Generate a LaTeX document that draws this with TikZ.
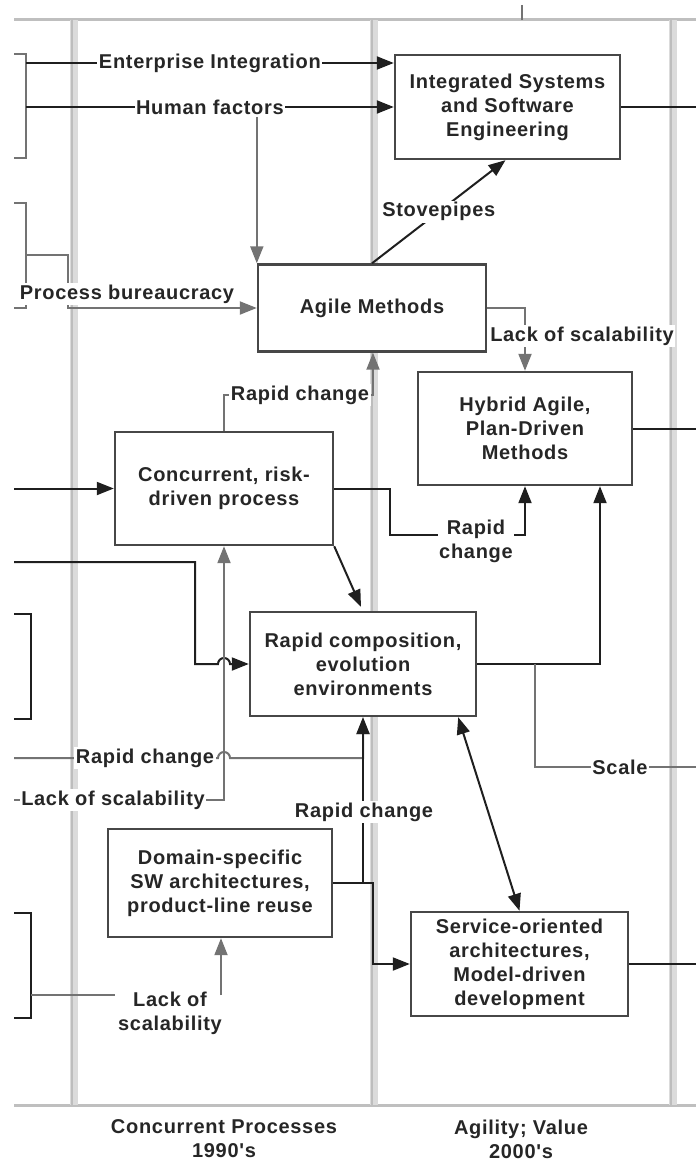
\documentclass[tikz,border=0pt]{standalone}
\usepackage{fontspec}
\setmainfont{Liberation Sans}[LetterSpace=3.5, Ligatures=TeXOff]
\usetikzlibrary{arrows.meta,calc}

\begin{document}
\begin{tikzpicture}[x=1pt,y=-1pt,
  every node/.style={font=\bfseries\fontsize{20}{24}\selectfont, text=black!85},
  box/.style={draw=black!72, line width=2.4pt, fill=white, align=center, inner sep=0pt},
  dk/.style={draw=black!88, line width=2pt},
  lt/.style={draw=black!55, line width=2pt},
  tip/.style={-{Triangle[length=17pt,width=13pt]}},
  tips/.style={{Triangle[length=17pt,width=13pt]}-{Triangle[length=17pt,width=13pt]}},
  lbl/.style={fill=white, inner sep=1.5pt, align=center},
  band/.style={draw=black!14, line width=8pt},
  bandline/.style={draw=black!26, line width=2.5pt},
  rule/.style={draw=black!25, line width=3pt},
]
\useasboundingbox (0,0) rectangle (696,1161);

% era frame: top and bottom rules, column separators
\draw[rule] (14,20) -- (696,20);
\draw[rule] (14,1105) -- (696,1105);
\foreach \cx in {74,374,673} {
  \draw[band] (\cx,20) -- (\cx,1105);
  \draw[bandline] (\cx-2,20) -- (\cx-2,1105);
}
\draw[draw=black!55, line width=2.5pt] (522,5) -- (522,20);

% reference coordinates on the page edges
\coordinate (lf) at (14,0);
\coordinate (rh) at (696,0);

% boxes
\node[box, minimum width=225pt, minimum height=104pt] (ise) at (507.5,107)
  {Integrated Systems\\and Software\\Engineering};
\node[box, minimum width=228pt, minimum height=87pt] (agile) at (372,308) {Agile Methods};
\node[box, minimum width=214pt, minimum height=113pt] (hybrid) at (525,428.5)
  {Hybrid Agile,\\Plan-Driven\\Methods};
\node[box, minimum width=218pt, minimum height=113pt] (conc) at (224,488.5)
  {Concurrent, risk-\\driven process};
\node[box, minimum width=226pt, minimum height=104pt] (rapid) at (363,664)
  {Rapid composition,\\evolution\\environments};
\node[box, minimum width=224pt, minimum height=108pt] (domain) at (220,883)
  {Domain-specific\\SW architectures,\\product-line reuse};
\node[box, minimum width=217pt, minimum height=104pt] (soa) at (519.5,964)
  {Service-oriented\\architectures,\\Model-driven\\development};

% left brackets
\draw[lt] (14,54) -- (26,54) -- (26,158) -- (14,158);
\draw[lt] (14,203) -- (26,203) -- (26,308) -- (14,308);
\draw[dk] (14,614) -- (31,614) -- (31,719) -- (14,719);
\draw[dk] (14,913) -- (31,913) -- (31,1018) -- (14,1018);

% inputs to integrated systems
\coordinate (ei) at (26,63);
\coordinate (hfs) at (26,107);
\draw[dk,tip] (ei) -- (ei -| ise.west) node[lbl,pos=0.5] (eil) {Enterprise Integration};
\draw[dk,tip] (hfs) -- (hfs -| ise.west) node[lbl,pos=0.5] (hfl) {Human factors};
\draw[lt,tip] (hfl.south -| agile.north west) -- (agile.north west);
\draw[dk] (ise.east) -- (ise.east -| rh);

% process bureaucracy into agile methods
\coordinate (pbs) at (26,255);
\draw[lt,tip] (pbs) -- (68,255) -- (68,308) -- (agile.west);
\node[lbl] (pbl) at (127,294) {Process bureaucracy};

% stovepipes
\draw[dk,tip] (agile.north) -- ($(ise.south)+(-2,0)$) node[lbl,pos=0.5] (stl) {Stovepipes};

% agile methods to hybrid
\draw[lt,tip] (agile.east) -- (agile.east -| hybrid.north) -- (hybrid.north);
\node[lbl] (losa) at (582,336) {Lack of scalability};
\draw[dk] (hybrid.east) -- (hybrid.east -| rh);

% concurrent process links
\draw[dk,tip] (conc.west -| lf) -- (conc.west);
\coordinate (rc1) at (373,395);
\draw[lt,tip] (conc.north) |- (rc1) -- (rc1 |- agile.south);
\node[lbl] (rcl1) at (300,395) {Rapid change};
\coordinate (cj) at (390,535);
\draw[dk,tip] (conc.east) -| (cj) -| (hybrid.south);
\node[lbl] (rcl2) at (476,541) {Rapid\\change};
\draw[dk,tip] (conc.south east) -- ($(rapid.north)+(-2,-4)$);

% rapid composition links
\coordinate (rj) at (600,664);
\draw[dk,tip] (rapid.east) -- (rj) -- (rj |- hybrid.south);
\coordinate (sj) at (535,664);
\draw[lt] (sj) -- (535,767) -- (696,767);
\node[lbl] (scl) at (620,767) {Scale};

\draw[dk,tip] (14,562) -- (195,562) -- (195,664) -- (218,664)
  arc[start angle=180, end angle=360, radius=6] -- (rapid.west);
\draw[lt,tip] (14,800) -- (224,800) -- (conc.south);
\node[lbl] (losm) at (113,800) {Lack of scalability};
\draw[lt,tip] (14,758) -- (218,758)
  arc[start angle=180, end angle=360, radius=6] -- (363,758) -- (rapid.south);
\node[lbl] (rcl3) at (145,758) {Rapid change};

% domain-specific architectures
\coordinate (dj) at (363,883);
\draw[dk,tip] (domain.east) -- (dj) -- (rapid.south);
\node[lbl] (rcl4) at (364,812) {Rapid change};
\draw[dk,tip] (dj) -- (373,883) -- (373,964) -- (soa.west);
\draw[lt] (31,995) -- (115,995);
\node[lbl] (losb) at (170,1013) {Lack of\\scalability};
\coordinate (lbj) at (221,995);
\draw[lt,tip] (lbj) -- (lbj |- domain.south);

% service-oriented architectures
\draw[dk,tips] ($(rapid.south east)+(-19,0)$) -- (soa.north);
\draw[dk] (soa.east) -- (soa.east -| rh);

% era captions
\node[align=center] (era1) at (224,1139) {Concurrent Processes\\1990's};
\node[align=center] (era2) at (521,1139) {Agility; Value\\2000's};
\end{tikzpicture}
\end{document}
